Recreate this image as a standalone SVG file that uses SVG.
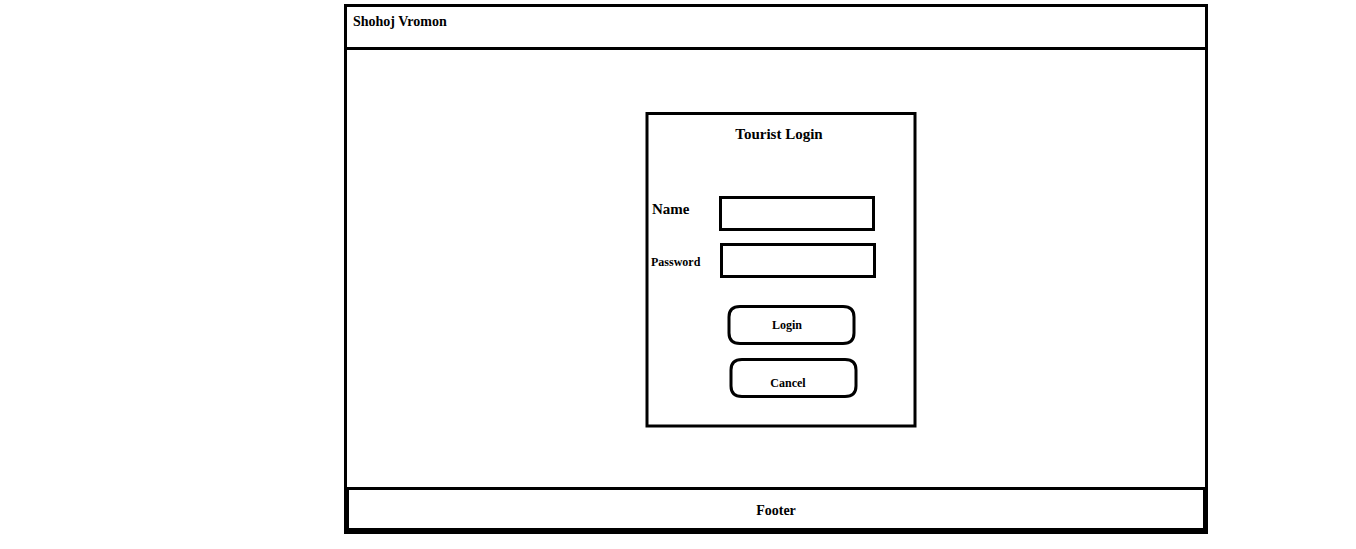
<svg xmlns="http://www.w3.org/2000/svg" width="1356" height="549" viewBox="0 0 1356 549">
<style>
.s{fill:none;stroke:#000;stroke-width:3}
.t{font-family:"Liberation Serif",serif;font-weight:bold;fill:#000}
</style>
<rect width="1356" height="549" fill="#fff"/>
<g id="frame"><rect class="s" x="345.5" y="5.5" width="861" height="527"/></g>
<g id="header"><line class="s" x1="345" y1="48.5" x2="1206" y2="48.5"/><text class="t" x="353" y="26" font-size="14">Shohoj Vromon</text></g>
<g id="footer"><rect class="s" x="347.5" y="488.5" width="857" height="41"/><line x1="345" y1="531" x2="1208" y2="531" stroke="#000" stroke-width="5"/><text class="t" x="776" y="515" font-size="14" text-anchor="middle">Footer</text></g>
<g id="login-box"><rect class="s" x="647" y="113.5" width="268" height="312.5"/><text class="t" x="779" y="139" font-size="15" text-anchor="middle">Tourist Login</text></g>
<g id="name"><text class="t" x="652" y="214" font-size="15">Name</text><rect class="s" x="720.5" y="197.5" width="153" height="32"/></g>
<g id="password"><text class="t" x="651" y="266" font-size="12">Password</text><rect class="s" x="721.5" y="244.5" width="153" height="32"/></g>
<g id="login-btn"><path class="s" d="M740,306.5 H843 Q854,306.5 854,317 V333 Q854,343.5 843,343.5 H740 Q729,343.5 729,333 V317 Q729,306.5 740,306.5 Z"/><text class="t" x="787" y="329" font-size="12" text-anchor="middle">Login</text></g>
<g id="cancel-btn"><path class="s" d="M742,359.5 H845 Q856,359.5 856,370 V386 Q856,396.5 845,396.5 H742 Q731,396.5 731,386 V370 Q731,359.5 742,359.5 Z"/><text class="t" x="788" y="387" font-size="12" text-anchor="middle">Cancel</text></g>
<g id="connectors"/>
</svg>
